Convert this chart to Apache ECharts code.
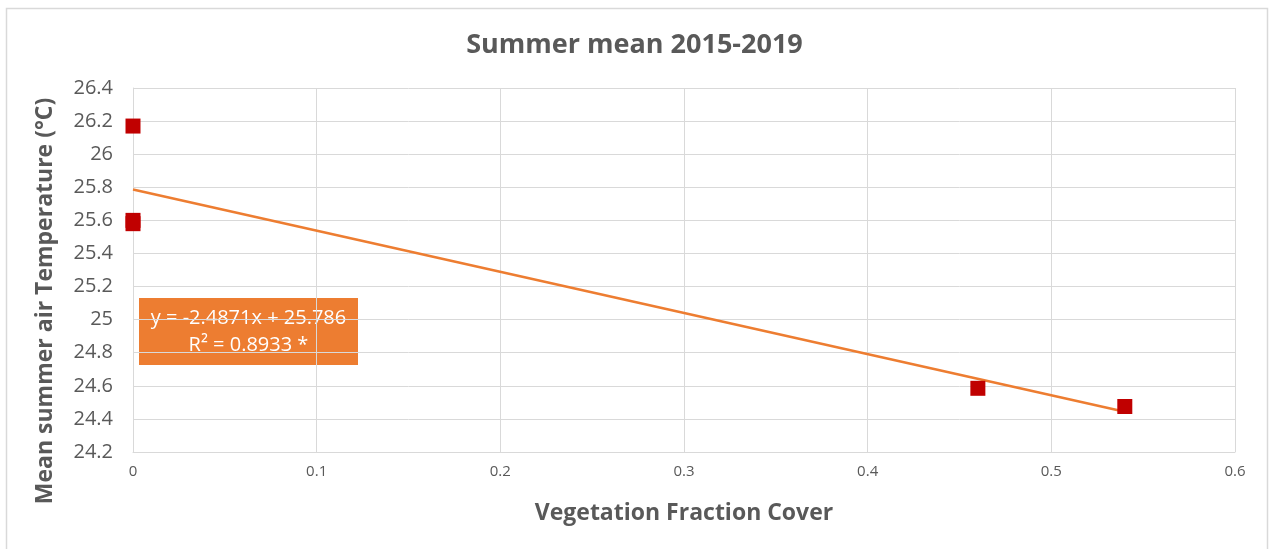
<!DOCTYPE html>
<html><head><meta charset="utf-8">
<script src="https://cdn.jsdelivr.net/npm/echarts@6/dist/echarts.min.js"></script>
<style>html,body{margin:0;padding:0;background:#fff}#c{width:1269px;height:549px}</style>
</head><body><div id="c"></div>
<script>
const vegCover = [0, 0, 0, 0.46, 0.54];
const meanTemp = [26.17, 25.60, 25.58, 24.585, 24.475];
const trendSlope = -2.4871;
const trendIntercept = 25.786;
const trendRange = [0, 0.54];
const xTicks = [0, 0.1, 0.2, 0.3, 0.4, 0.5, 0.6];
const yTicks = [24.2, 24.4, 24.6, 24.8, 25, 25.2, 25.4, 25.6, 25.8, 26, 26.2, 26.4];

const chart = echarts.init(document.getElementById('c'));
const font = 'Open Sans, Liberation Sans, sans-serif';
const grey = '#595959';
chart.setOption({
  animation: false,
  title: {text: 'Summer mean 2015-2019', left: 'center', top: 27,
    textStyle: {fontFamily: font, fontSize: 27, fontWeight: 'bold', color: grey}},
  grid: {left: 133, right: 34, top: 88, bottom: 97},
  xAxis: {type: 'value', min: 0, max: 0.6, interval: 0.1,
    name: 'Vegetation Fraction Cover', nameLocation: 'middle', nameGap: 50,
    nameTextStyle: {fontFamily: font, fontSize: 23, fontWeight: 'bold', color: grey},
    axisLine: {lineStyle: {color: '#d9d9d9', width: 1}}, axisTick: {show: false},
    axisLabel: {fontFamily: font, fontSize: 15, color: grey, margin: 12,
      formatter: v => { const t = xTicks.find(x => Math.abs(x - v) < 1e-9); return t === undefined ? '' : String(t); }},
    splitLine: {lineStyle: {color: '#d9d9d9'}}},
  yAxis: {type: 'value', min: 24.2, max: 26.4, interval: 0.2,
    axisLine: {show: true, lineStyle: {color: '#d9d9d9'}}, axisTick: {show: false},
    axisLabel: {fontFamily: font, fontSize: 20, color: grey, margin: 20,
      formatter: v => { const t = yTicks.find(x => Math.abs(x - v) < 1e-6); return t === undefined ? '' : String(t); }},
    splitLine: {lineStyle: {color: '#d9d9d9'}}},
  series: [
    {type: 'line', data: trendRange.map(x => [x, trendIntercept + trendSlope * x]),
      symbol: 'none', lineStyle: {color: '#ED7D31', width: 2.5}, z: 3},
    {type: 'scatter', data: vegCover.map((x, i) => [x, meanTemp[i]]),
      symbol: 'rect', symbolSize: 15, itemStyle: {color: '#C00000', opacity: 1}, z: 4}
  ],
  graphic: [
    {type: 'rect', left: 4, top: 6, shape: {width: 1261, height: 560},
      style: {fill: 'none', stroke: '#d9d9d9', lineWidth: 1.5}, silent: true},
    {type: 'text', x: 45, y: 301, rotation: Math.PI / 2,
      style: {text: 'Mean summer air Temperature (°C)', fill: grey,
        font: 'bold 23px ' + font, align: 'center', verticalAlign: 'middle'}},
    {type: 'group', left: 139, top: 298, children: [
      {type: 'rect', shape: {x: 0, y: 0, width: 219, height: 67}, style: {fill: '#ED7D31'}},
      {type: 'text', x: 109.5, y: 7, style: {text: 'y = -2.4871x + 25.786\nR² = 0.8933 *',
        fill: '#fff', font: '20px ' + font, align: 'center', lineHeight: 27}}
    ]}
  ]
});
</script></body></html>
